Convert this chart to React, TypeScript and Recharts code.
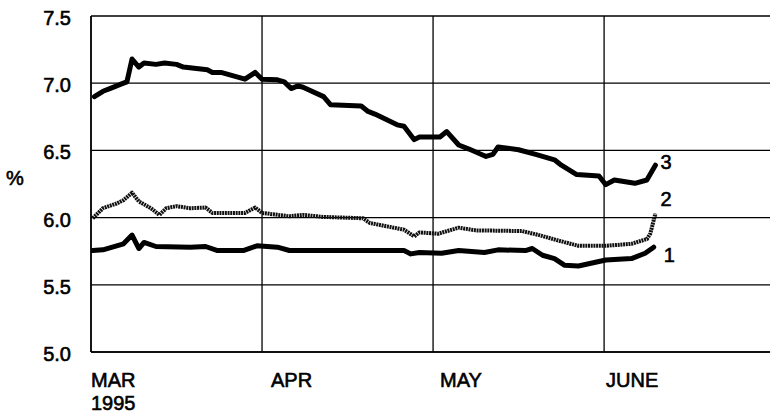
import React from 'react';
import { LineChart, Line, XAxis, YAxis, CartesianGrid } from 'recharts';

// x = months since 1 March 1995 (0 = MAR, 1 = APR, 2 = MAY, 3 = JUNE)
const monthTicks = [0, 1, 2, 3];
const monthLabels = ['MAR', 'APR', 'MAY', 'JUNE'];
const yearLabel = '1995';
const yTicks = [5.0, 5.5, 6.0, 6.5, 7.0, 7.5];
const yAxisLabel = '%';

const line3: [number, number][] = [
  [0.02, 6.90], [0.07, 6.94], [0.11, 6.96], [0.19, 7.00], [0.21, 7.01], [0.24, 7.18],
  [0.28, 7.12], [0.31, 7.15], [0.38, 7.14], [0.43, 7.15], [0.50, 7.14], [0.54, 7.12],
  [0.68, 7.10], [0.71, 7.08], [0.76, 7.08], [0.90, 7.03], [0.96, 7.08], [1.00, 7.03],
  [1.09, 7.025], [1.13, 7.01], [1.17, 6.96], [1.21, 6.98], [1.24, 6.97], [1.36, 6.90],
  [1.40, 6.84], [1.58, 6.83], [1.62, 6.79], [1.66, 6.77], [1.79, 6.69], [1.83, 6.68],
  [1.89, 6.58], [1.92, 6.60], [2.04, 6.60], [2.08, 6.64], [2.15, 6.54], [2.21, 6.51],
  [2.31, 6.455], [2.35, 6.47], [2.38, 6.525], [2.50, 6.505], [2.60, 6.47], [2.71, 6.43],
  [2.75, 6.39], [2.84, 6.32], [2.97, 6.31], [3.01, 6.245], [3.06, 6.28], [3.18, 6.255],
  [3.25, 6.28], [3.30, 6.39],
];

const line2: [number, number][] = [
  [0.01, 5.995], [0.07, 6.07], [0.15, 6.105], [0.19, 6.13], [0.24, 6.185], [0.28, 6.12],
  [0.35, 6.07], [0.40, 6.02], [0.44, 6.07], [0.50, 6.085], [0.58, 6.07], [0.67, 6.075],
  [0.71, 6.035], [0.90, 6.035], [0.96, 6.075], [1.00, 6.035], [1.16, 6.01], [1.24, 6.02],
  [1.36, 6.005], [1.59, 5.995], [1.63, 5.96], [1.83, 5.91], [1.89, 5.86], [1.92, 5.89],
  [2.03, 5.88], [2.15, 5.925], [2.25, 5.905], [2.52, 5.90], [2.62, 5.87], [2.73, 5.83],
  [2.85, 5.79], [3.01, 5.79], [3.16, 5.805], [3.25, 5.84], [3.27, 5.88], [3.30, 6.03],
];

const line1: [number, number][] = [
  [0.01, 5.755], [0.07, 5.76], [0.19, 5.805], [0.24, 5.87], [0.28, 5.77], [0.31, 5.815],
  [0.38, 5.785], [0.58, 5.78], [0.67, 5.785], [0.74, 5.755], [0.89, 5.755], [0.97, 5.79],
  [1.09, 5.78], [1.16, 5.755], [1.59, 5.755], [1.83, 5.755], [1.87, 5.73], [1.92, 5.74],
  [2.05, 5.735], [2.15, 5.755], [2.30, 5.74], [2.38, 5.76], [2.54, 5.755], [2.58, 5.77],
  [2.64, 5.72], [2.71, 5.695], [2.77, 5.645], [2.85, 5.64], [3.01, 5.685], [3.16, 5.695],
  [3.24, 5.735], [3.29, 5.78],
];

const seriesNames = ['1', '2', '3'];

const toPoints = (arr: [number, number][]) => arr.map(([x, y]) => ({ x, y }));

const FONT = '"Liberation Sans", Arial, Helvetica, sans-serif';
const monthLabelDx = [0, 9, 7, 2];
const textStyle = { fontSize: 20, fontFamily: FONT, fill: '#000', stroke: '#000', strokeWidth: 0.6 } as const;

function XTick(props: any) {
  const { x, payload } = props;
  const i = monthTicks.indexOf(payload.value);
  if (i < 0) return null;
  return (
    <g>
      <text x={x + monthLabelDx[i]} y={387} {...textStyle} textAnchor="start">
        {monthLabels[i]}
      </text>
      {i === 0 && (
        <text x={x} y={410} {...textStyle} textAnchor="start">
          {yearLabel}
        </text>
      )}
    </g>
  );
}

function YTick(props: any) {
  const { y, payload } = props;
  return (
    <text x={71} y={y + 9} {...textStyle} textAnchor="end">
      {Number(payload.value).toFixed(1)}
    </text>
  );
}

function endLabel(name: string, count: number, dx: number, dy: number) {
  return (props: any) => {
    const { x, y, index } = props;
    if (index !== count - 1) return null;
    return (
      <text x={x + dx} y={y + dy} {...textStyle} textAnchor="start">
        {name}
      </text>
    );
  };
}

export default function App() {
  const d1 = toPoints(line1);
  const d2 = toPoints(line2);
  const d3 = toPoints(line3);
  return (
    <div style={{ position: 'absolute', left: 0, top: 0, width: 771, height: 415, background: '#fff' }}>
      <LineChart width={771} height={415} margin={{ top: 16, right: 1, bottom: 0, left: 0 }}>
        <CartesianGrid stroke="#000" strokeWidth={1.3} horizontalValues={yTicks} verticalValues={monthTicks} />
        <XAxis
          type="number"
          dataKey="x"
          domain={[0, 3.97]}
          ticks={monthTicks}
          allowDataOverflow
          height={63}
          axisLine={{ stroke: '#000', strokeWidth: 1.5 }}
          tickLine={false}
          tick={<XTick />}
          interval={0}
        />
        <YAxis
          type="number"
          dataKey="y"
          domain={[5, 7.5]}
          ticks={yTicks}
          allowDataOverflow
          width={91}
          axisLine={{ stroke: '#000', strokeWidth: 1.5 }}
          tickLine={false}
          tick={<YTick />}
          interval={0}
        />
        <Line
          data={d1}
          dataKey="y"
          type="linear"
          stroke="#000"
          strokeWidth={5}
          strokeLinejoin="round"
          strokeLinecap="round"
          dot={false}
          isAnimationActive={false}
          label={endLabel(seriesNames[0], d1.length, 10, 15)}
        />
        <Line
          data={d2}
          dataKey="y"
          type="linear"
          stroke="#111"
          strokeWidth={4}
          strokeDasharray="2 0.7"
          strokeLinejoin="round"
          dot={false}
          isAnimationActive={false}
          label={endLabel(seriesNames[1], d2.length, 5, -8)}
        />
        <Line
          data={d3}
          dataKey="y"
          type="linear"
          stroke="#000"
          strokeWidth={5}
          strokeLinejoin="round"
          strokeLinecap="round"
          dot={false}
          isAnimationActive={false}
          label={endLabel(seriesNames[2], d3.length, 5, 4)}
        />
      </LineChart>
      <svg style={{ position: 'absolute', left: 0, top: 0 }} width={40} height={200}>
        <text x={15} y={185} {...textStyle} textAnchor="middle">
          {yAxisLabel}
        </text>
      </svg>
    </div>
  );
}
